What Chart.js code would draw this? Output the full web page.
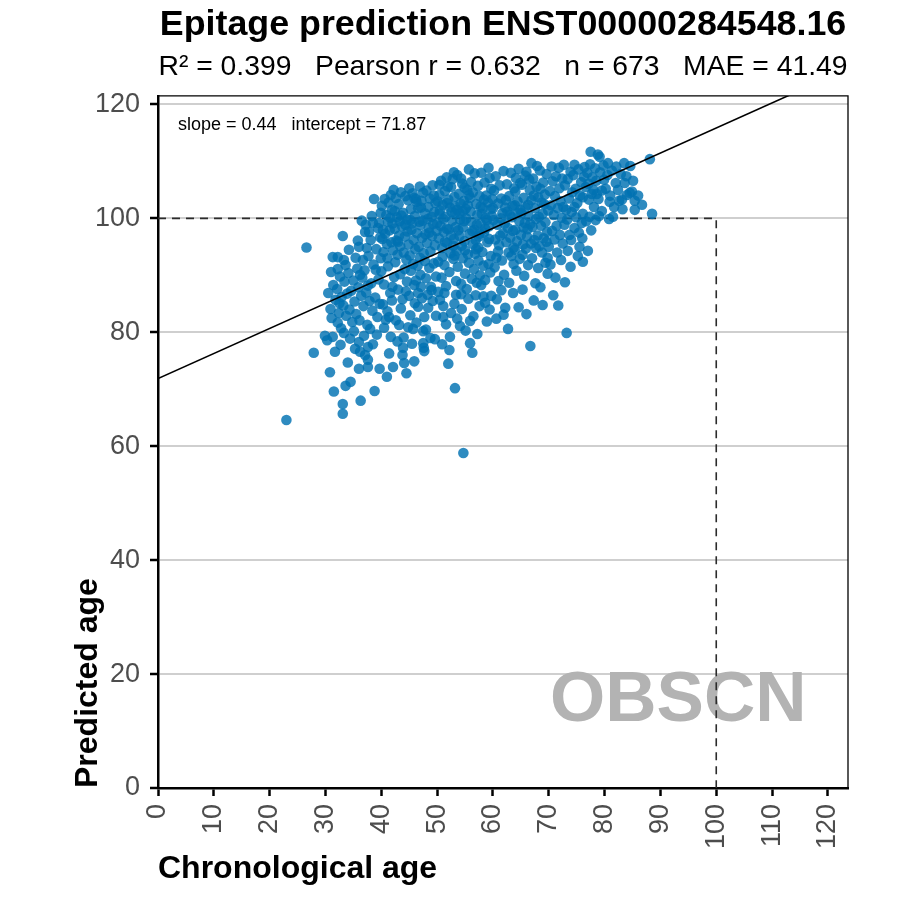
<!DOCTYPE html>
<html>
<head>
<meta charset="utf-8">
<title>Epitage prediction ENST00000284548.16</title>
<script src="https://cdn.jsdelivr.net/npm/chart.js@4.4.1/dist/chart.umd.min.js"></script>
<style>
  html, body { margin: 0; padding: 0; background: #fff; }
  #chart { display: block; }
</style>
</head>
<body>
<canvas id="chart" width="900" height="900"></canvas>
<script>
// tick labels
const xTicks = [0, 10, 20, 30, 40, 50, 60, 70, 80, 90, 100, 110, 120]
const yTicks = [0, 20, 40, 60, 80, 100, 120]

// fit summary shown on the plot
const fitSlope = 0.44
const fitIntercept = 71.87
const refAge = 100
const geneName = 'OBSCN'

// samples as [chronological age, predicted age], grouped by decade of age
const obs20s = [[23.0,64.6],[26.6,94.9],[27.9,76.4],[29.9,79.4]]

const obs30s = [
  [30.8,73.0],[31.1,82.5],[31.3,79.2],[31.7,76.6],[31.5,69.6],[33.1,65.7],[33.1,67.4],[33.6,70.6],[34.5,71.3],[36.3,68.0],
  [38.8,69.7],[39.7,73.6],[36.0,73.6],[37.6,73.9],[37.6,75.2],[37.1,76.0],[37.6,77.4],[36.2,76.6],[36.0,78.3],[36.9,79.4],
  [32.7,77.8],[33.3,79.9],[32.2,81.7],[31.3,93.2],[32.2,93.2],[32.2,91.1],[33.3,92.7],[34.2,94.5],[35.4,93.1],[36.0,95.0],
  [36.7,92.7],[37.2,98.9],[38.1,96.2],[37.8,97.6],[37.1,97.6],[38.7,103.4],[38.5,99.2],[39.6,99.2],[39.9,101.0],[33.1,96.9],
  [30.5,86.9],[30.9,84.1],[31.4,88.3],[31.8,85.7],[32.1,87.6],[32.4,83.4],[32.6,89.8],[32.9,86.2],[33.2,84.7],[33.4,88.9],
  [33.7,82.9],[33.9,86.8],[34.1,90.4],[34.3,84.0],[34.6,87.3],[34.8,81.8],[35.0,89.1],[35.2,85.4],[35.5,83.2],[35.7,91.2],
  [35.9,87.9],[36.1,82.1],[36.4,86.4],[36.6,89.6],[36.8,84.6],[37.0,90.9],[37.3,87.0],[37.5,81.3],[37.7,93.4],[37.9,85.5],
  [38.2,88.6],[38.4,83.8],[38.6,91.9],[38.9,86.1],[39.1,94.6],[39.3,82.7],[39.5,89.3],[39.8,96.7],[30.3,78.6],[31.0,90.6],
  [32.8,80.7],[33.6,91.8],[34.4,78.9],[35.1,80.2],[35.8,96.1],[36.5,99.6],[37.4,94.8],[38.0,80.6],[38.3,100.4],[39.0,91.0],
  [39.4,98.3],[39.7,85.0],[34.0,74.7],[35.3,77.1],[38.5,77.9],[39.2,79.6],[32.5,85.1],[36.2,90.1],[37.6,88.2],[39.9,93.0]
]

const obs40s = [
  [40.6,103.4],[41.7,104.1],[42.6,103.6],[40.3,98.0],[41.2,99.4],[41.0,72.2],[44.1,74.6],[43.8,76.0],[44.8,103.2],[45.9,103.6],
  [47.5,104.5],[46.6,101.8],[48.4,102.0],[49.5,101.1],[43.2,81.3],[44.8,80.9],[45.7,80.6],[41.7,79.2],[47.5,80.2],[47.5,78.1],
  [47.6,77.3],[47.7,76.7],[40.5,80.8],[40.8,82.2],[41.4,82.7],[46.6,84.5],[47.7,82.7],[48.4,84.3],[49.8,82.9],[48.9,88.0],
  [47.1,88.0],[45.9,88.3],[46.6,86.9],
  [40.1,102.2],[40.9,100.6],[41.3,102.8],[41.9,101.5],[42.2,105.0],[42.8,100.2],[43.1,102.5],[43.5,104.6],[43.9,101.0],[44.3,103.9],
  [44.6,99.8],[45.0,105.3],[45.3,101.6],[45.6,104.4],[46.0,100.4],[46.3,102.9],[46.9,105.6],[47.2,103.1],[47.8,100.9],[48.1,104.9],
  [48.7,103.5],[49.0,100.3],[49.2,105.8],[49.7,102.7],[42.0,99.1],[43.3,99.5],[45.2,99.7],[46.8,99.4],[48.3,99.9],[49.4,104.0],
  [40.2,96.4],[40.4,94.1],[40.7,97.3],[41.0,95.5],[41.1,93.0],[41.5,97.9],[41.8,95.8],[42.1,94.4],[42.4,98.2],[42.7,96.1],
  [42.9,93.6],[43.2,97.0],[43.4,95.1],[43.7,98.6],[44.0,94.0],[44.2,96.8],[44.5,92.8],[44.7,97.7],[44.9,95.4],[45.1,93.5],
  [45.4,98.0],[45.8,96.2],[46.1,94.6],[46.4,97.4],[46.7,95.0],[47.0,98.8],[47.3,96.6],[47.6,93.9],[47.9,97.2],[48.2,95.7],
  [48.5,98.3],[48.8,94.2],[49.1,96.9],[49.3,99.0],[49.6,95.3],[49.9,97.8],[41.6,100.1],[43.6,100.5],[45.5,99.1],[47.4,99.6],
  [40.0,90.7],[40.5,88.4],[41.2,91.6],[41.6,86.9],[42.3,89.7],[42.5,92.3],[43.0,87.5],[43.4,90.2],[43.8,85.8],[44.2,91.1],
  [44.6,88.9],[45.0,86.4],[45.3,90.8],[45.7,92.0],[46.2,89.1],[46.5,91.7],[47.0,90.1],[47.3,86.0],[47.8,92.5],[48.0,89.5],
  [48.6,91.3],[49.0,87.4],[49.4,92.1],[49.8,89.8],[42.0,88.0],[44.4,87.2],[48.3,86.6],[46.9,93.1],
  [40.3,84.9],[41.1,83.7],[41.9,85.6],[42.6,82.1],[43.5,84.2],[44.0,79.1],[45.2,83.0],[45.5,78.0],[46.0,85.1],[46.3,81.7],
  [48.0,80.5],[48.8,79.0],[49.2,85.5],[42.9,78.4],[43.9,77.3],[41.4,76.3],[45.9,74.9],[49.6,78.8],[42.1,73.9],[44.5,72.8],
  [42.4,101.3],[44.3,98.9],[46.2,103.4],[48.6,97.5],[43.0,95.9],[47.1,101.9]
]

const obs50s = [
  [50.4,105.9],[50.4,104.1],[52.5,105.5],[53.1,103.8],[54.9,105.4],[55.7,108.6],[56.1,106.4],[59.2,108.9],
  [51.1,82.7],[51.1,84.6],[52.5,83.4],[53.1,85.0],[53.4,86.6],[54.3,86.7],[51.3,86.9],[50.2,87.1],
  [52.0,74.5],[53.2,70.2],[54.7,58.8],[54.1,81.1],[55.9,78.1],[56.3,76.4],[52.2,76.9],[57.9,88.3],[59.7,86.4],[58.6,85.2],
  [50.1,103.0],[50.7,106.6],[51.0,102.4],[51.4,104.8],[51.7,107.2],[52.0,103.3],[52.3,101.9],[52.8,106.9],[53.3,102.1],[53.6,107.6],
  [53.9,104.3],[54.2,102.6],[54.5,106.1],[54.8,103.1],[55.1,101.7],[55.4,105.0],[55.9,103.6],[56.4,104.6],[56.7,107.9],[57.0,102.5],
  [57.3,105.7],[57.6,103.9],[57.9,108.0],[58.2,101.8],[58.5,106.3],[58.8,104.0],[59.1,102.8],[59.4,107.1],[59.7,105.2],[51.9,105.6],
  [53.0,108.1],[54.0,100.9],[56.0,101.2],[58.0,100.8],[59.9,103.4],
  [50.0,99.2],[50.3,96.5],[50.6,98.7],[50.9,94.8],[51.2,97.6],[51.5,100.3],[51.8,95.7],[52.1,98.1],[52.4,93.9],[52.7,99.6],
  [53.0,96.4],[53.2,100.9],[53.5,94.3],[53.8,97.9],[54.1,99.8],[54.4,95.2],[54.6,98.4],[54.9,96.0],[55.2,100.0],[55.5,93.7],
  [55.8,97.3],[56.1,99.4],[56.4,95.5],[56.7,98.0],[57.0,94.6],[57.2,100.6],[57.5,96.8],[57.8,99.1],[58.1,94.1],[58.4,97.5],
  [58.7,100.1],[59.0,95.8],[59.3,98.6],[59.6,93.4],[59.8,100.4],[50.5,101.4],[52.6,101.1],[54.7,101.3],[56.9,96.2],[58.9,99.7],
  [50.2,92.4],[50.8,89.6],[51.3,91.8],[51.6,88.1],[52.2,90.6],[52.9,92.9],[53.4,89.0],[53.7,91.5],[54.3,88.5],[54.6,93.0],
  [55.0,90.3],[55.3,87.6],[55.7,92.2],[56.2,89.4],[56.6,91.1],[57.1,88.7],[57.4,92.6],[57.7,90.0],[58.3,91.7],[58.6,89.2],
  [59.2,92.0],[59.5,90.5],[51.0,93.3],[53.1,93.5],[56.8,93.8],
  [50.5,85.7],[51.6,81.4],[52.3,79.2],[53.6,82.4],[54.4,84.1],[55.1,80.3],[55.6,85.9],[56.5,82.8],[57.2,79.7],[57.6,84.6],
  [58.9,81.9],[59.4,84.0],[50.9,77.9],[56.9,86.5],[55.9,82.0],[58.3,86.3],
  [50.4,100.8],[51.1,99.9],[51.8,102.7],[52.5,97.0],[53.3,98.5],[54.0,96.9],[54.8,99.5],[55.5,102.3],[56.3,97.8],[57.1,98.9],
  [57.8,102.1],[58.6,98.2],[59.3,96.4],[52.9,95.2],[55.0,94.4],[57.4,94.9],[59.6,101.6],[51.4,95.9],
  [51.7,98.2],[53.6,101.5],[55.7,104.1],[57.6,97.3],[58.4,103.3],[54.3,107.0]
]

const obs60s = [
  [61.5,87.4],[62.2,84.3],[60.6,82.4],[66.9,109.7],[66.7,77.6],[68.9,84.8],[65.3,93.6],[63.7,92.0],[60.6,93.1],[62.8,94.0],
  [69.4,92.2],[69.8,93.1],[69.8,90.3],
  [60.2,104.9],[60.5,107.4],[60.9,102.6],[61.2,105.8],[61.5,103.5],[61.9,108.3],[62.2,101.9],[62.5,106.0],[62.9,103.9],[63.2,108.0],
  [63.5,102.2],[63.8,105.3],[64.1,107.1],[64.4,103.0],[64.6,108.7],[64.9,101.5],[65.2,105.9],[65.5,103.6],[65.8,107.5],[66.0,108.2],
  [66.3,102.4],[66.6,105.0],[66.9,103.2],[67.2,107.0],[67.5,101.8],[67.8,105.6],[68.1,103.7],[68.4,108.4],[68.7,102.8],[69.0,106.3],
  [69.3,104.2],[69.6,107.8],[69.9,101.4],[61.7,100.9],[63.0,100.6],[64.0,104.7],[65.1,100.9],[66.5,106.8],[67.9,109.2],[68.9,100.8],
  [60.1,99.7],[60.4,96.3],[60.8,98.9],[61.1,95.3],[61.4,100.0],[61.8,97.4],[62.1,99.1],[62.4,95.8],[62.7,98.3],[63.1,96.6],
  [63.4,100.2],[63.7,94.9],[64.0,98.0],[64.3,96.0],[64.7,99.6],[65.0,97.1],[65.4,95.4],[65.7,99.2],[66.1,96.8],[66.4,100.4],
  [66.8,95.6],[67.1,98.5],[67.4,96.2],[67.7,99.9],[68.0,97.0],[68.3,95.1],[68.6,98.7],[69.1,96.5],[69.4,99.3],[69.7,97.6],
  [62.6,101.2],[64.5,101.0],[66.2,98.1],[68.2,100.3],
  [60.3,91.4],[61.0,89.0],[61.6,92.6],[62.0,90.1],[62.9,88.7],[63.3,93.4],[64.2,90.8],[64.8,92.9],[65.6,89.9],[66.3,91.8],
  [67.0,93.0],[67.6,88.6],[68.1,91.3],[68.8,94.0],[65.9,94.7],[63.9,94.5],
  [60.7,85.8],[61.9,83.1],[63.6,86.9],[64.6,84.4],[65.3,87.5],[67.3,85.6],[68.5,87.9],[62.7,80.6],[66.0,83.2],
  [60.0,101.8],[61.3,97.0],[62.3,103.2],[63.6,97.8],[64.9,106.2],[65.8,101.9],[66.7,99.0],[67.3,104.0],[68.5,105.2],[69.2,102.5],
  [60.9,94.2],[63.9,102.3],[65.5,98.4],[67.7,94.8],[69.6,95.9]
]

const obs70s = [
  [70.0,95.0],[70.5,109.1],[71.8,108.9],[72.7,109.4],[74.6,109.4],[76.4,109.0],[77.5,111.7],[78.8,111.2],[79.1,110.8],[79.9,106.8],
  [73.2,79.9],[77.3,100.3],[75.9,99.2],[75.5,95.0],[73.4,94.3],[76.1,92.4],[73.9,91.5],[73.7,97.1],[71.4,98.7],[74.6,98.3],
  [74.1,101.1],[72.3,100.1],[79.5,101.3],[77.7,104.3],[78.6,104.3],[77.2,103.3],[78.1,102.0],[76.1,100.8],[74.6,102.0],
  [70.2,104.8],[70.4,102.3],[70.7,106.5],[70.9,100.6],[71.1,103.9],[71.3,107.4],[71.6,101.8],[71.9,105.3],[72.1,103.0],[72.4,107.0],
  [72.6,102.0],[72.9,105.8],[73.1,101.5],[73.4,106.9],[73.6,103.5],[73.9,108.2],[74.2,104.6],[74.4,107.6],[74.8,105.2],[75.1,102.7],
  [75.3,108.6],[75.6,104.0],[75.8,106.4],[76.1,103.7],[76.3,107.3],[76.6,105.5],[76.9,108.0],[77.1,106.1],[77.4,109.5],[77.8,107.2],
  [78.0,105.0],[78.3,108.8],[78.5,106.6],[78.9,103.4],[79.2,108.1],[79.5,104.9],[79.8,109.3],[70.6,97.8],[71.0,96.3],[71.5,94.0],
  [72.0,97.1],[72.5,95.6],[72.8,98.9],[73.3,99.8],[74.0,96.2],[74.9,100.2],[75.4,97.5],[76.0,96.5],[76.7,99.5],[77.6,97.9],
  [78.4,99.7],[79.0,100.4],[70.3,91.9],[71.2,89.6],[72.2,92.7],[70.8,86.5],[72.9,88.8],[71.7,84.7],[75.2,93.4],[77.0,94.3]
]

const obs80s = [
  [80.6,109.7],[83.5,109.7],[88.1,110.4],[88.5,100.8],[85.4,103.1],[85.4,101.5],[84.9,104.7],[84.0,104.1],[82.6,103.1],[80.9,102.9],
  [80.8,99.9],[82.0,106.2],[83.6,106.2],[84.5,104.5],[83.1,103.3],
  [80.2,105.2],[80.5,107.6],[81.0,104.0],[81.3,108.4],[81.7,102.0],[82.1,109.1],[82.4,105.0],[82.9,107.8],[83.2,101.6],[83.9,107.4],
  [84.6,109.2],[85.1,106.6],[86.0,104.0],[86.7,102.4],[81.5,100.3]
]

const xMax = 123.6
const yMax = 121.5
const FONT = "'Liberation Sans', Arial, Helvetica, sans-serif"

const samples = [obs20s, obs30s, obs40s, obs50s, obs60s, obs70s, obs80s]
  .flat()
  .map(([age, pred]) => ({ x: age, y: pred }))

const fitLine = [
  { x: 0, y: fitIntercept },
  { x: xMax, y: fitIntercept + fitSlope * xMax }
]

const refLine = [
  { x: 0, y: refAge },
  { x: refAge, y: refAge },
  { x: refAge, y: 0 }
]

const panelDecor = {
  id: 'panelDecor',
  beforeDatasetsDraw(chart) {
    const { ctx, scales } = chart
    ctx.save()
    ctx.font = 'bold 71px ' + FONT
    ctx.fillStyle = '#b3b3b3'
    ctx.textAlign = 'center'
    ctx.textBaseline = 'alphabetic'
    ctx.fillText(geneName, scales.x.getPixelForValue(93.2), scales.y.getPixelForValue(11.8))
    ctx.restore()
  },
  afterDatasetsDraw(chart) {
    const { ctx, chartArea } = chart
    ctx.save()
    ctx.font = '18px ' + FONT
    ctx.fillStyle = '#000'
    ctx.textAlign = 'left'
    ctx.textBaseline = 'middle'
    ctx.fillText('slope = ' + fitSlope.toFixed(2) + '   intercept = ' + fitIntercept.toFixed(2),
      chartArea.left + 20, chartArea.top + 29)
    ctx.restore()
  },
  afterDraw(chart) {
    const { ctx, chartArea } = chart
    ctx.save()
    ctx.strokeStyle = '#000'
    ctx.lineWidth = 1.3
    ctx.beginPath()
    ctx.moveTo(chartArea.left, chartArea.top)
    ctx.lineTo(chartArea.right, chartArea.top)
    ctx.lineTo(chartArea.right, chartArea.bottom)
    ctx.stroke()
    ctx.restore()
  }
}

new Chart(document.getElementById('chart'), {
  type: 'scatter',
  data: {
    datasets: [
      {
        label: 'fit',
        data: fitLine,
        showLine: true,
        borderColor: '#000',
        borderWidth: 1.6,
        pointRadius: 0,
        order: 0
      },
      {
        label: 'samples',
        data: samples,
        backgroundColor: 'rgba(0, 114, 178, 0.82)',
        borderWidth: 0,
        pointRadius: 5.3,
        order: 1
      },
      {
        label: 'reference',
        data: refLine,
        showLine: true,
        borderColor: '#2b2b2b',
        borderWidth: 1.6,
        borderDash: [8, 6],
        pointRadius: 0,
        order: 2
      }
    ]
  },
  options: {
    responsive: false,
    animation: false,
    events: [],
    layout: {
      padding: { left: 0, right: 52, top: 0, bottom: 0 }
    },
    plugins: {
      legend: { display: false },
      tooltip: { enabled: false },
      title: {
        display: true,
        fullSize: false,
        text: 'Epitage prediction ENST00000284548.16',
        color: '#000',
        font: { family: FONT, size: 35.8, weight: 'bold' },
        padding: { top: 4, bottom: 0 }
      },
      subtitle: {
        display: true,
        fullSize: false,
        text: 'R\u00b2 = 0.399   Pearson r = 0.632   n = 673   MAE = 41.49',
        color: '#000',
        font: { family: FONT, size: 28.3 },
        padding: { top: 3, bottom: 12 }
      }
    },
    scales: {
      x: {
        type: 'linear',
        min: 0,
        max: xMax,
        afterBuildTicks: scale => { scale.ticks = xTicks.map(v => ({ value: v })) },
        afterFit: scale => { scale.height = 112 },
        ticks: {
          autoSkip: false,
          minRotation: 90,
          maxRotation: 90,
          padding: 8,
          color: '#4d4d4d',
          font: { family: FONT, size: 27 },
          callback: value => String(value)
        },
        grid: {
          display: true,
          drawOnChartArea: false,
          drawTicks: true,
          tickLength: 8,
          tickColor: '#000',
          tickWidth: 2.5
        },
        border: { display: true, color: '#000', width: 2.5 },
        title: {
          display: true,
          text: 'Chronological age',
          align: 'start',
          color: '#000',
          font: { family: FONT, size: 32, weight: 'bold' },
          padding: { top: 0, bottom: 12 }
        }
      },
      y: {
        type: 'linear',
        min: 0,
        max: yMax,
        afterBuildTicks: scale => { scale.ticks = yTicks.map(v => ({ value: v })) },
        afterFit: scale => { scale.width = 158 },
        ticks: {
          padding: 10,
          color: '#4d4d4d',
          font: { family: FONT, size: 27 },
          callback: value => String(value)
        },
        grid: {
          color: '#cfcfcf',
          lineWidth: 2,
          drawTicks: true,
          tickLength: 8,
          tickColor: '#000',
          tickWidth: 2.5
        },
        border: { display: true, color: '#000', width: 2.5 },
        title: {
          display: true,
          text: 'Predicted age',
          align: 'start',
          color: '#000',
          font: { family: FONT, size: 32, weight: 'bold' },
          padding: { top: 69, bottom: 0 }
        }
      }
    }
  },
  plugins: [panelDecor]
})
</script>
</body>
</html>
